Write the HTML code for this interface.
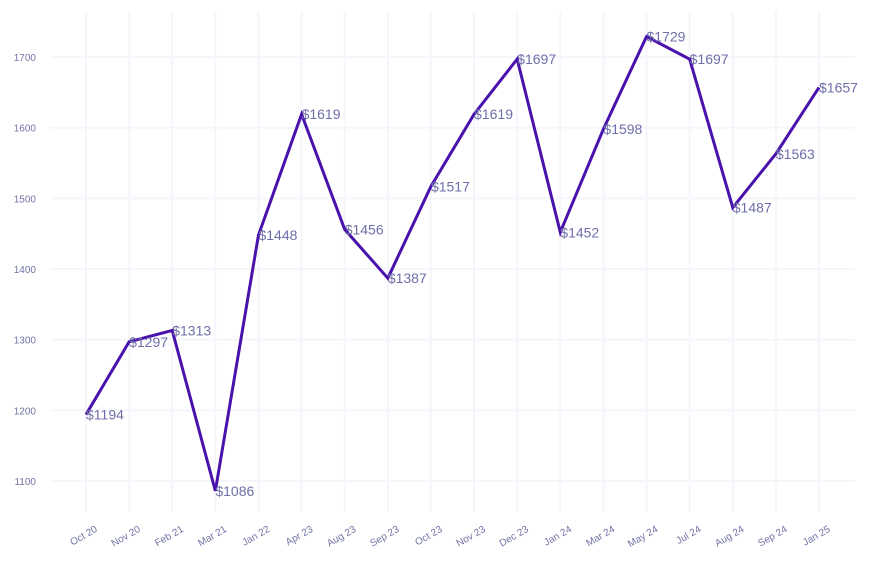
<!DOCTYPE html>
<html><head><meta charset="utf-8"><style>
body{margin:0;background:#fff;}
svg{display:block;font-family:"Liberation Sans",sans-serif;}
</style></head><body>
<svg id="chart" width="873" height="565">
<g id="grid"></g>
<g id="yaxis"></g>
<g id="xaxis"></g>
<g id="series"></g>
</svg>
<script>
const categories=["Oct 20","Nov 20","Feb 21","Mar 21","Jan 22","Apr 23","Aug 23","Sep 23","Oct 23","Nov 23","Dec 23","Jan 24","Mar 24","May 24","Jul 24","Aug 24","Sep 24","Jan 25"];
const values=[1194,1297,1313,1086,1448,1619,1456,1387,1517,1619,1697,1452,1598,1729,1697,1487,1563,1657];
const yTicks=[1100,1200,1300,1400,1500,1600,1700];
const NS="http://www.w3.org/2000/svg";
const x=i=>86+i*(819-86)/(categories.length-1);
const y=v=>481-(v-1100)*(481-57)/600;
function mk(tag,attrs,parent){const e=document.createElementNS(NS,tag);for(const k in attrs)e.setAttribute(k,attrs[k]);parent.appendChild(e);return e;}
const grid=document.getElementById('grid'),ya=document.getElementById('yaxis'),xa=document.getElementById('xaxis'),se=document.getElementById('series');
yTicks.forEach(t=>{
 const l=mk('line',{x1:50,x2:855,y1:y(t),y2:y(t),stroke:'#f5f5fc','stroke-width':2},grid);
 
 
 const tx=mk('text',{x:36,y:y(t)+4,'text-anchor':'end','font-size':10,fill:'#7373a6'},ya);
 tx.textContent=t;
 
 
});
categories.forEach((c,i)=>{
 const l=mk('line',{x1:x(i),x2:x(i),y1:12,y2:512,stroke:'#f5f5fc','stroke-width':2},grid);
 
 
 const tx=mk('text',{x:x(i)+12,y:531,'text-anchor':'end','font-size':10,fill:'#7373a6',transform:`rotate(-30 ${x(i)+12} 531)`},xa);
 tx.textContent=c;
 
 
});
const p=mk('polyline',{points:values.map((v,i)=>x(i)+','+y(v)).join(' '),fill:'none',stroke:'#4a12ad','stroke-width':3,'stroke-linejoin':'miter'},se);


values.forEach((v,i)=>{
 const t=mk('text',{x:x(i),y:y(v)+5,'font-size':14,fill:'#6e6fa8'},se);
 t.textContent='$'+v;
 
 
});
</script>
</body></html>
